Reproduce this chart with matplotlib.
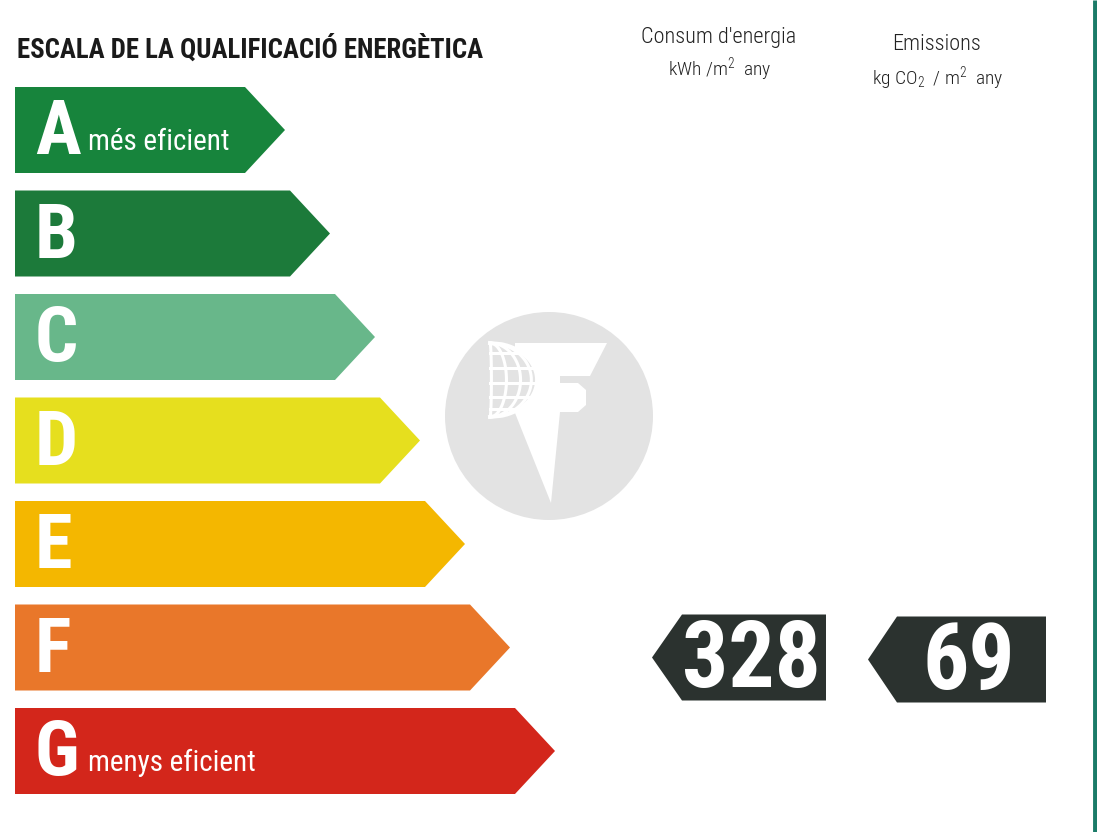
import matplotlib
matplotlib.use("Agg")
import matplotlib.pyplot as plt
from matplotlib.patches import Polygon, Circle
import numpy as np

# ---- data ----
categories = ["A", "B", "C", "D", "E", "F", "G"]
bar_colors = ["#17843c", "#1c7a3a", "#68b78a", "#e6df1e", "#f4b700", "#e9772a", "#d3261b"]
sub_labels = {"A": "més eficient", "G": "menys eficient"}
title = "ESCALA DE LA QUALIFICACIÓ ENERGÈTICA"
energy_value = 328
emission_value = 69
rating = "F"
energy_header = ["Consum d'energia", "kWh /m$^2$  any"]
emission_header = ["Emissions", "kg CO$_2$  / m$^2$  any"]

plt.rcParams["mathtext.fontset"] = "custom"
plt.rcParams["mathtext.rm"] = "Roboto Condensed:light"
plt.rcParams["mathtext.it"] = "Roboto Condensed:light"
plt.rcParams["mathtext.default"] = "rm"

W, H = 1097, 832
fig = plt.figure(figsize=(W / 100, H / 100), dpi=100)
ax = fig.add_axes([0, 0, 1, 1])
ax.set_xlim(0, W)
ax.set_ylim(H, 0)
ax.axis("off")

COND = ["Roboto Condensed", "Archivo Narrow", "IBM Plex Sans Condensed", "Open Sans Condensed", "DejaVu Sans"]
LIGHT = ["Roboto Condensed", "IBM Plex Sans Condensed", "DejaVu Sans"]

# title
ax.text(17, 50, title, fontsize=19.3, fontweight="heavy", family=COND,
        color="#1a1a1a", va="center", ha="left")

# bars
x0 = 15
y_first = 87
pitch = 103.5
bh = 86
tip_len = 40
rect_end0 = 245
step = 45
for i, (cat, col) in enumerate(zip(categories, bar_colors)):
    yt = y_first + i * pitch
    yb = yt + bh
    xr = rect_end0 + i * step
    poly = Polygon([(x0, yt), (xr, yt), (xr + tip_len, (yt + yb) / 2), (xr, yb), (x0, yb)],
                   closed=True, facecolor=col, edgecolor="none")
    ax.add_patch(poly)
    ax.text(35, yt + bh / 2 + 4, cat, fontsize=55, fontweight="bold", family=COND,
            color="white", ha="left", va="center")
    if cat in sub_labels:
        ax.text(88, yt + bh / 2 + 20, sub_labels[cat], fontsize=21, family=COND,
                color="white", ha="left", va="baseline")

# watermark
cx, cy, r = 549, 416, 104
ax.add_patch(Circle((cx, cy), r, facecolor="#e3e3e3", edgecolor="none"))
fpoly = [(515, 343), (607, 343), (590, 376), (560, 376), (560, 383), (578, 383),
         (586, 390), (586, 405), (578, 412), (560, 412), (551, 503), (515, 413)]
ax.add_patch(Polygon(fpoly, closed=True, facecolor="white", edgecolor="none"))
gx0, gy0, rx, ry = 490, 380, 47, 37
t = np.linspace(-1, 1, 60)
half = np.column_stack([gx0 + rx * np.sqrt(1 - t ** 2), gy0 + ry * t])
ax.add_patch(Polygon(half, closed=True, facecolor="#e3e3e3", edgecolor="none"))
for k in [0.03, 0.35, 0.65, 0.88]:
    ax.plot(gx0 + k * rx * np.sqrt(1 - t ** 2), gy0 + ry * t, color="white", lw=2.2)
for gy in [353, 368, 383, 397, 409]:
    s = (gy - gy0) / ry
    ax.plot([gx0, gx0 + rx * np.sqrt(max(0, 1 - s ** 2))], [gy, gy], color="white", lw=2.2)
ax.plot(gx0 + rx * np.sqrt(1 - t ** 2), gy0 + ry * t, color="white", lw=2.8)

# headers
ax.text(719, 38, energy_header[0], fontsize=16, fontweight="light", family=LIGHT,
        color="#222222", ha="center", va="center")
ax.text(720, 69, energy_header[1], fontsize=14, fontweight="light", family=LIGHT,
        color="#222222", ha="center", va="center")
ax.text(937, 45, emission_header[0], fontsize=16, fontweight="light", family=LIGHT,
        color="#222222", ha="center", va="center")
ax.text(938, 78, emission_header[1], fontsize=14, fontweight="light", family=LIGHT,
        color="#222222", ha="center", va="center")

# indicators
ri = categories.index(rating)
yc = y_first + ri * pitch + bh / 2 + 10
ind_h = 86
for (val, xt, xl, xr, dy) in [(energy_value, 652, 682, 826, 0), (emission_value, 868, 897, 1046, 2)]:
    yt = yc - ind_h / 2 + dy
    yb = yc + ind_h / 2 + dy
    ax.add_patch(Polygon([(xt, (yt + yb) / 2), (xl, yt), (xr, yt), (xr, yb), (xl, yb)],
                         closed=True, facecolor="#2b322f", edgecolor="none"))
    ax.text((xl + xr) / 2 - 3, (yt + yb) / 2 + 4, str(val), fontsize=66, fontweight="bold",
            family=COND, color="white", ha="center", va="center")

# right edge line
ax.plot([1094.5, 1094.5], [0, H], color="#1b7b68", lw=3.5, solid_capstyle="butt")

fig.savefig("out.png", dpi=100, facecolor="white")
